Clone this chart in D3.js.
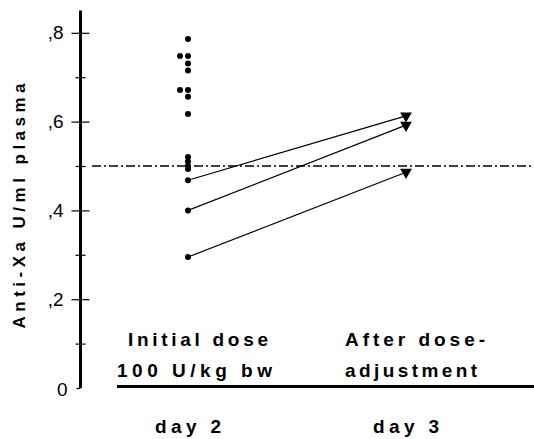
<!DOCTYPE html>
<html>
<head>
<meta charset="utf-8">
<script src="https://cdn.jsdelivr.net/npm/d3@7"></script>
<style>
  body { margin: 0; background: #fff; }
  text { font-family: "Liberation Sans", Arial, sans-serif; fill: #000; }
</style>
</head>
<body>
<div id="chart"></div>
<script>
// values
days = ["day 2", "day 3"];
day2Values = [0.786, 0.748, 0.748, 0.731, 0.715, 0.671, 0.671, 0.656, 0.617, 0.52, 0.51, 0.50, 0.493, 0.468, 0.40, 0.295];
day2Column = [0, 1, 0, 0, 0, 1, 0, 0, 0, 0, 0, 0, 0, 0, 0, 0]; // 1 = dot drawn beside the column
pairStart = [0.468, 0.40, 0.295];
pairEnd = [0.613, 0.592, 0.486];
targetLevel = 0.5;
majorTicks = [0.2, 0.4, 0.6, 0.8];
minorTicks = [0.1, 0.3, 0.5, 0.7];
labelTop = ["Initial dose", "After dose-"];
labelBottom = ["100 U/kg bw", "adjustment"];
yTitle = "Anti-Xa U/ml plasma";

let W = 534, H = 439;
let svg = d3.select("#chart").append("svg")
    .attr("width", W)
    .attr("height", H);

let y = d3.scaleLinear()
    .domain([0, 0.85])
    .range([388, 388 - 0.85 * 444]);

let x = d3.scalePoint()
    .domain(days)
    .range([188, 406]);

let fmt = d => d === 0 ? "0" : "," + Math.round(d * 10);

// left side major ticks with labels
let axL = svg.append("g")
    .attr("transform", "translate(80.5,0)")
    .call(d3.axisLeft(y).tickValues([0].concat(majorTicks)).tickFormat(fmt).tickSize(9).tickPadding(8));
axL.select(".domain").remove();
axL.selectAll("text")
    .style("font-size", "19px")
    .style("font-family", "'Liberation Sans', Arial, sans-serif");
axL.selectAll(".tick line").attr("stroke-width", 1.2);
let zeroTick = axL.selectAll(".tick").filter(d => d === 0);
zeroTick.select("line").attr("x2", -4);
zeroTick.select("text").attr("x", -13).attr("dy", "0.42em");

// right side of the major ticks
let axR = svg.append("g")
    .attr("transform", "translate(80.5,0)")
    .call(d3.axisRight(y).tickValues(majorTicks).tickFormat("").tickSize(9));
axR.select(".domain").remove();
axR.selectAll(".tick line").attr("stroke-width", 1.2);

// minor ticks, crossing the axis
[d3.axisLeft, d3.axisRight].forEach(function(ax) {
    let g = svg.append("g")
        .attr("transform", "translate(80.5,0)")
        .call(ax(y).tickValues(minorTicks).tickFormat("").tickSize(5));
    g.select(".domain").remove();
    g.selectAll(".tick line").attr("stroke-width", 1.2);
});

// thick axis line
svg.append("line")
    .attr("x1", 80.5).attr("x2", 80.5)
    .attr("y1", y(0)).attr("y2", y(0.85))
    .attr("stroke", "#000")
    .attr("stroke-width", 3);

// y title
svg.append("text")
    .attr("transform", "translate(25," + (y(0.41)) + ") rotate(-90)")
    .attr("text-anchor", "middle")
    .attr("textLength", 245)
    .attr("lengthAdjust", "spacing")
    .style("font-size", "17px")
    .style("font-weight", "bold")
    .text(yTitle);

// target level, dash-dot
svg.append("line")
    .attr("x1", 92).attr("x2", W)
    .attr("y1", y(targetLevel)).attr("y2", y(targetLevel))
    .attr("stroke", "#000")
    .attr("stroke-width", 1.4)
    .attr("stroke-dasharray", "9,3,2,3");

// paired lines day 2 -> day 3
svg.selectAll(".pair")
    .data(pairStart)
    .enter().append("line")
    .attr("class", "pair")
    .attr("x1", x("day 2"))
    .attr("y1", d => y(d))
    .attr("x2", x("day 3"))
    .attr("y2", (d, i) => y(pairEnd[i]))
    .attr("stroke", "#000")
    .attr("stroke-width", 1.2);

// day 2 dots
svg.selectAll(".dot")
    .data(day2Values)
    .enter().append("circle")
    .attr("class", "dot")
    .attr("cx", (d, i) => x("day 2") - day2Column[i] * 8)
    .attr("cy", d => y(d))
    .attr("r", 3)
    .attr("fill", "#000");

// day 3 triangles
svg.selectAll(".tri")
    .data(pairEnd)
    .enter().append("path")
    .attr("class", "tri")
    .attr("d", d3.symbol().type(d3.symbolTriangle).size(60))
    .attr("transform", d => "translate(" + x("day 3") + "," + y(d) + ") rotate(180)")
    .attr("fill", "#000");

// group labels
let lab = svg.append("g")
    .style("font-size", "19px")
    .style("font-weight", "bold");
lab.selectAll(".top")
    .data(labelTop)
    .enter().append("text")
    .attr("x", (d, i) => x(days[i]) + [-60, -61][i])
    .attr("y", 346)
    .attr("textLength", (d, i) => [140, 140][i])
    .attr("lengthAdjust", "spacing")
    .text(d => d);
lab.selectAll(".bottom")
    .data(labelBottom)
    .enter().append("text")
    .attr("x", (d, i) => x(days[i]) + [-71, -61][i])
    .attr("y", 377)
    .attr("textLength", (d, i) => [155, 132][i])
    .attr("lengthAdjust", "spacing")
    .text(d => d);

// base line under the labels
svg.append("line")
    .attr("x1", 117).attr("x2", W)
    .attr("y1", 386.5).attr("y2", 386.5)
    .attr("stroke", "#000")
    .attr("stroke-width", 3);

// day labels
lab.selectAll(".day")
    .data(days)
    .enter().append("text")
    .attr("x", d => x(d))
    .attr("y", 433)
    .attr("text-anchor", "middle")
    .attr("textLength", 66)
    .attr("lengthAdjust", "spacing")
    .text(d => d);
</script>
</body>
</html>
